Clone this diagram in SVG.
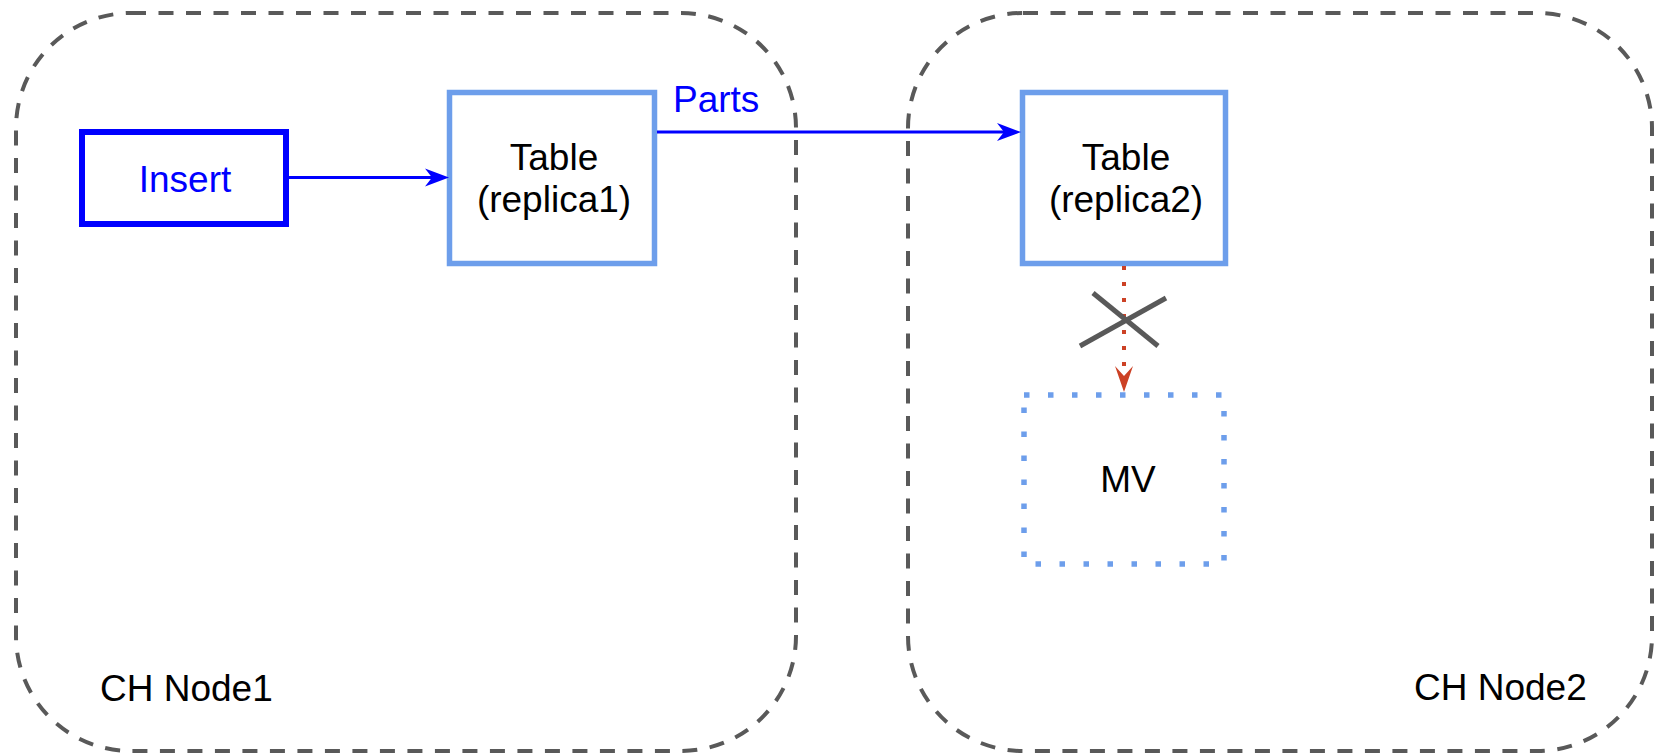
<svg xmlns="http://www.w3.org/2000/svg" width="1654" height="753" viewBox="0 0 1654 753">
<style>
.container{fill:none;stroke:#595959;stroke-width:4;stroke-dasharray:15 12.5}
.table{fill:#ffffff;stroke:#6D9EEB;stroke-width:5.5}
.lbl{font-family:"Liberation Sans",Arial,Helvetica,sans-serif;font-size:37px;fill:#000000}
.blue{fill:#0000FF}
.mid{text-anchor:middle}
.flow{fill:none;stroke:#0000FF;stroke-width:3}
</style>
<defs>
<marker id="arrBlue" markerUnits="userSpaceOnUse" viewBox="-27 -11 29 22" markerWidth="29" markerHeight="22" refX="-17" refY="0" orient="auto">
<path d="M0,0 L-24,-9 L-17,0 L-24,9 Z" fill="#0000FF"/>
</marker>
<marker id="arrRed" markerUnits="userSpaceOnUse" viewBox="-28 -11 30 22" markerWidth="30" markerHeight="22" refX="-16" refY="0" orient="auto">
<path d="M0,0 L-26,-9 L-16,0 L-26,9 Z" fill="#CC4125"/>
</marker>
</defs>
<rect width="1654" height="753" fill="#ffffff"/>
<g id="ch-node1">
<rect class="container" x="16" y="13" width="780" height="738" rx="115" ry="115"/>
<text class="lbl" x="100" y="701">CH Node1</text>
</g>
<g id="ch-node2">
<rect class="container" x="908" y="13" width="744" height="738" rx="115" ry="115"/>
<text class="lbl" x="1414" y="700">CH Node2</text>
</g>
<g id="insert">
<rect x="82" y="132" width="204" height="92" fill="#ffffff" stroke="#0000FF" stroke-width="6"/>
<text class="lbl blue mid" x="185" y="192">Insert</text>
</g>
<g id="table-replica1">
<rect class="table" x="449.5" y="92.5" width="205" height="171"/>
<text class="lbl mid" x="554" y="170">Table</text>
<text class="lbl mid" x="554" y="212">(replica1)</text>
</g>
<g id="table-replica2">
<rect class="table" x="1022.5" y="92.5" width="203" height="171"/>
<text class="lbl mid" x="1126" y="170">Table</text>
<text class="lbl mid" x="1126" y="212">(replica2)</text>
</g>
<g id="mv">
<rect x="1024" y="395" width="200" height="169" fill="none" stroke="#6D9EEB" stroke-width="5.5" stroke-dasharray="5.5 18.5"/>
<text class="lbl mid" x="1128" y="492">MV</text>
</g>
<g id="connectors">
<line class="flow" x1="289" y1="177.5" x2="432" y2="177.5" marker-end="url(#arrBlue)"/>
<line class="flow" x1="657" y1="132" x2="1004" y2="132" marker-end="url(#arrBlue)"/>
<text class="lbl blue" x="673" y="112">Parts</text>
<line x1="1124" y1="266" x2="1124" y2="376" stroke="#CC4125" stroke-width="4" stroke-dasharray="4 12" marker-end="url(#arrRed)"/>
<g id="cross" stroke="#595959" stroke-width="5">
<line x1="1093" y1="293" x2="1158" y2="346"/>
<line x1="1080" y1="346" x2="1166" y2="298"/>
</g>
</g>
</svg>
